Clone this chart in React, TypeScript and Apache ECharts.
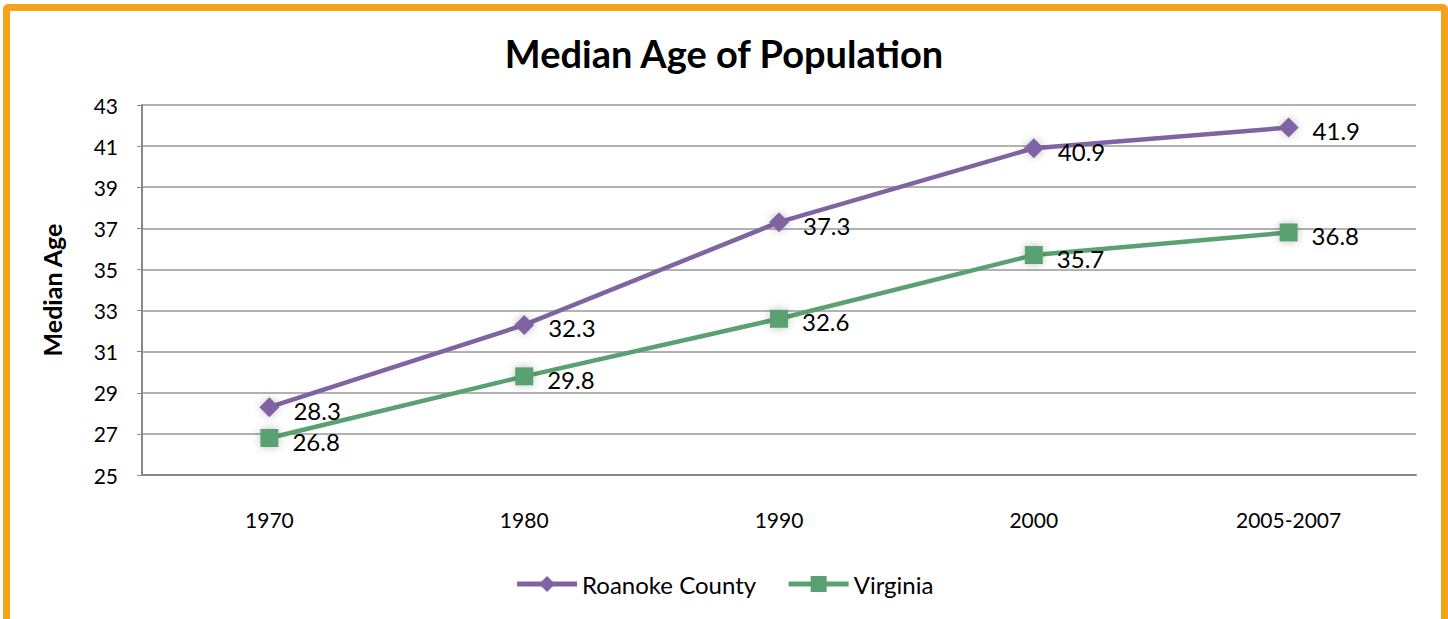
import React, { useEffect, useRef } from "react";
import * as echarts from "echarts";

const categories = ["1970", "1980", "1990", "2000", "2005-2007"];
const roanoke = [28.3, 32.3, 37.3, 40.9, 41.9];
const virginia = [26.8, 29.8, 32.6, 35.7, 36.8];
const yMin = 25;
const yMax = 43;
const yStep = 2;

const FONT = "Lato, 'Open Sans', sans-serif";

export default function App() {
  const ref = useRef<HTMLDivElement>(null);
  useEffect(() => {
    document.body.style.margin = "0";
    const chart = echarts.init(ref.current!, undefined, { renderer: "svg" });
    const label = {
      show: true,
      position: "right" as const,
      offset: [9, 3],
      fontSize: 24,
      color: "#000",
      fontFamily: FONT,
    };
    chart.setOption({
      animation: false,
      backgroundColor: "transparent",
      title: {
        text: "Median Age of Population",
        left: "center",
        top: 29,
        textStyle: { fontSize: 38, fontWeight: "bold", color: "#000", fontFamily: FONT },
      },
      legend: {
        bottom: 18,
        left: "center",
        itemWidth: 60,
        itemHeight: 20,
        itemGap: 30,
        lineStyle: { width: 5 },
        textStyle: { fontSize: 24, color: "#000", fontFamily: FONT },
        data: ["Roanoke County", "Virginia"],
      },
      grid: { left: 142, right: 32, top: 105, bottom: 144 },
      xAxis: {
        type: "category",
        data: categories,
        boundaryGap: true,
        axisLine: { lineStyle: { color: "#888", width: 2 } },
        axisTick: { show: false },
        axisLabel: { fontSize: 21, color: "#000", margin: 34, fontFamily: FONT },
      },
      yAxis: {
        type: "value",
        min: yMin,
        max: yMax,
        interval: yStep,
        name: "Median Age",
        nameLocation: "middle",
        nameGap: 78,
        nameTextStyle: { fontSize: 25, fontWeight: "bold", color: "#000", fontFamily: FONT },
        axisLine: { show: true, lineStyle: { color: "#888", width: 2 } },
        axisTick: { show: true, length: 5, lineStyle: { color: "#888" } },
        axisLabel: { fontSize: 21, color: "#000", margin: 24, fontFamily: FONT },
        splitLine: { lineStyle: { color: "#999", width: 1.5 } },
      },
      series: [
        {
          name: "Roanoke County",
          type: "line",
          data: roanoke,
          symbol: "diamond",
          symbolSize: 20,
          color: "#8064A2",
          lineStyle: { width: 4.5, color: "#8064A2" },
          itemStyle: { color: "#8064A2", shadowBlur: 8, shadowColor: "rgba(0,0,0,0.25)" },
          label,
        },
        {
          name: "Virginia",
          type: "line",
          data: virginia,
          symbol: "rect",
          symbolSize: 18,
          color: "#5AA172",
          lineStyle: { width: 4.5, color: "#5AA172" },
          itemStyle: { color: "#5AA172", shadowBlur: 8, shadowColor: "rgba(0,0,0,0.25)" },
          label,
        },
      ],
    });
    return () => chart.dispose();
  }, []);
  return (
    <div style={{ position: "relative", width: 1448, height: 619, overflow: "hidden", background: "#fff" }}>
      <div
        style={{
          position: "absolute",
          left: 3,
          top: 4,
          width: 1445,
          height: 640,
          border: "7px solid #F6A31B",
          borderRadius: 5,
          boxSizing: "border-box",
        }}
      />
      <div ref={ref} style={{ position: "absolute", left: 0, top: 0, width: 1448, height: 619 }} />
    </div>
  );
}
